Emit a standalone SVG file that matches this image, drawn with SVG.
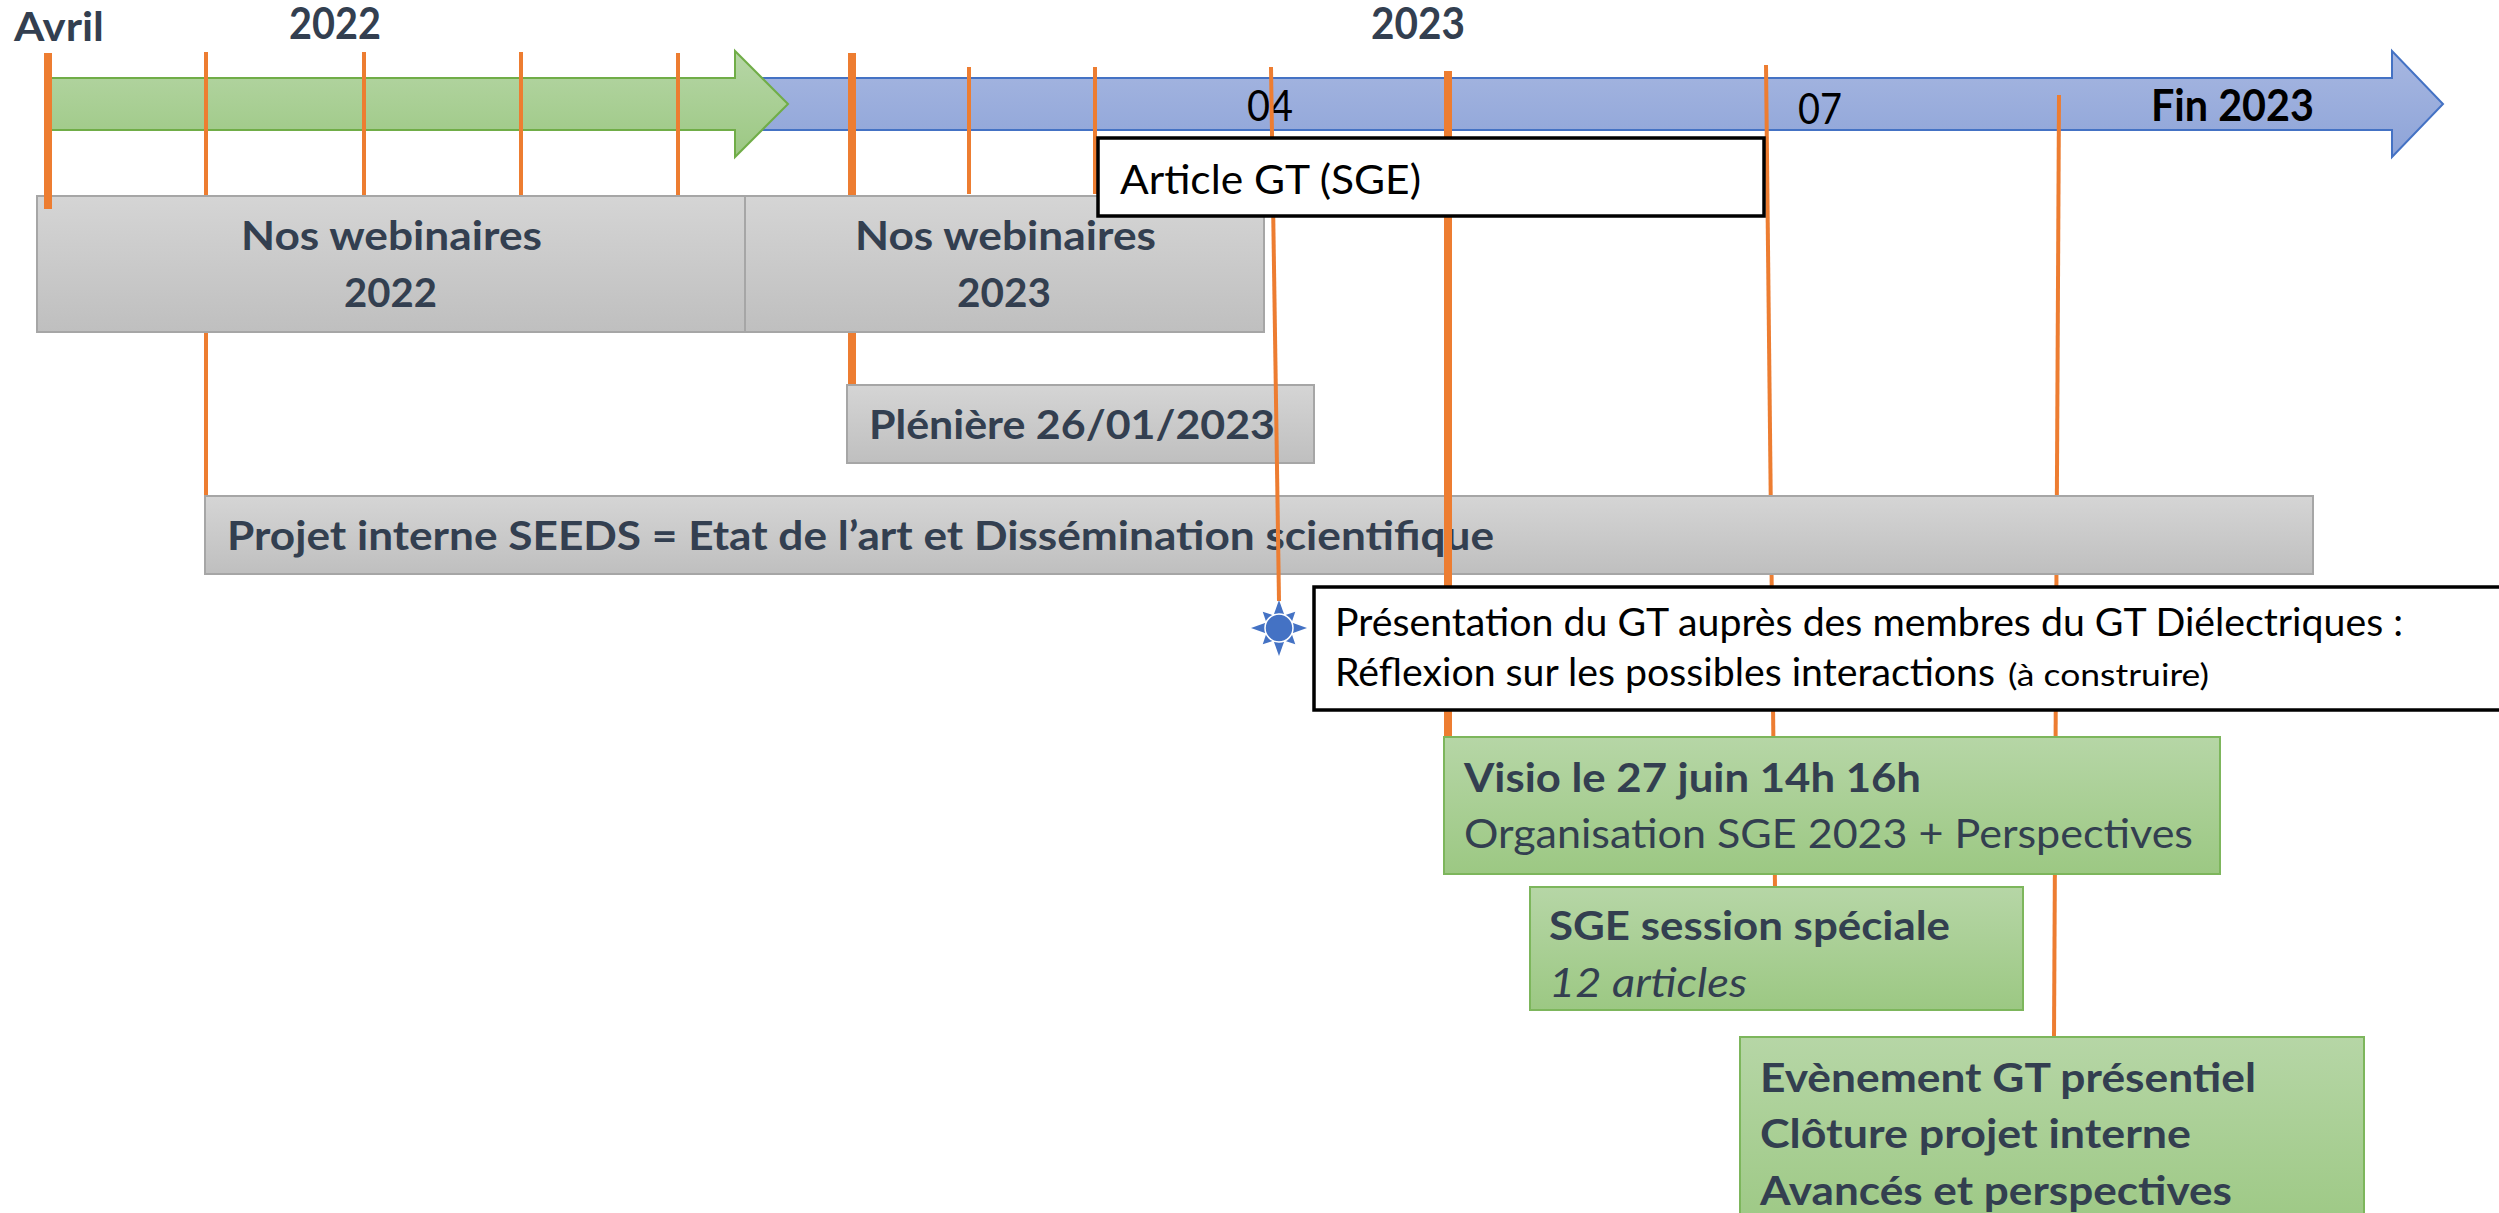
<svg xmlns="http://www.w3.org/2000/svg" width="2499" height="1213" viewBox="0 0 2499 1213">
<defs>
<linearGradient id="gGreen" x1="0" y1="0" x2="0" y2="1"><stop offset="0" stop-color="#B6D6A6"/><stop offset="1" stop-color="#9CC883"/></linearGradient>
<linearGradient id="gBlue" x1="0" y1="0" x2="0" y2="1"><stop offset="0" stop-color="#A7B7E1"/><stop offset="1" stop-color="#8EA4D8"/></linearGradient>
<linearGradient id="gGray" x1="0" y1="0" x2="0" y2="1"><stop offset="0" stop-color="#D5D5D5"/><stop offset="1" stop-color="#BFBFBF"/></linearGradient>
<style>
text{font-family:Lato,"Liberation Sans",sans-serif;font-size:40px}
.b{font-weight:bold}
.dk{fill:#333F50}
.bk{fill:#000}
.big{font-size:43px}
.pres{font-size:38px}
.tick{stroke:#ED7D31;stroke-width:4;fill:none}
.thick{stroke:#ED7D31;stroke-width:8;fill:none}
.gray{fill:url(#gGray);stroke:#A6A6A6;stroke-width:2}
.green{fill:url(#gGreen);stroke:#7DB65C;stroke-width:2}
.white{fill:#fff;stroke:#000;stroke-width:3.5}
</style>
</defs>
<rect width="2499" height="1213" fill="#fff"/>

<g id="timeline">
<path d="M760,78 H2392 V51 L2443,104 L2392,157 V130 H760 Z" fill="url(#gBlue)" stroke="#4472C4" stroke-width="2"/>
<path d="M50,78 H735 V51 L788,104 L735,157 V130 H50 Z" fill="url(#gGreen)" stroke="#70AD47" stroke-width="2"/>
<text x="14" y="41" class="b dk" textLength="90" lengthAdjust="spacingAndGlyphs">Avril</text>
<text x="289" y="39" class="b dk big" textLength="92" lengthAdjust="spacingAndGlyphs">2022</text>
<text x="1371" y="39" class="b dk big" textLength="94" lengthAdjust="spacingAndGlyphs">2023</text>
<text x="1247" y="121" class="bk big" textLength="46" lengthAdjust="spacingAndGlyphs">04</text>
<text x="1798" y="124" class="bk big" textLength="44" lengthAdjust="spacingAndGlyphs">07</text>
<text x="2151" y="121" class="b bk big" textLength="163" lengthAdjust="spacingAndGlyphs">Fin 2023</text>
</g>

<g id="connectors">
<g id="ticks-back">
<line class="tick" x1="206" y1="52" x2="206" y2="496"/>
<line class="tick" x1="364" y1="52" x2="364" y2="196"/>
<line class="tick" x1="521" y1="52" x2="521" y2="196"/>
<line class="tick" x1="678" y1="53" x2="678" y2="196"/>
<line class="thick" x1="852" y1="53" x2="852" y2="385"/>
<line class="tick" x1="969" y1="67" x2="969" y2="194"/>
<line class="tick" x1="1095" y1="67" x2="1095" y2="194"/>
<line class="tick" x1="1766" y1="65" x2="1775" y2="887"/>
<line class="tick" x1="2059" y1="95" x2="2054" y2="1037"/>
</g>
</g>

<g id="webinaires-2022">
<rect class="gray" x="37" y="196" width="708" height="136"/>
<text x="241" y="250" class="b dk" textLength="301" lengthAdjust="spacingAndGlyphs">Nos webinaires</text>
<text x="344" y="307" class="b dk" textLength="93" lengthAdjust="spacingAndGlyphs">2022</text>
</g>
<g id="webinaires-2023">
<rect class="gray" x="745" y="196" width="519" height="136"/>
<text x="855" y="250" class="b dk" textLength="301" lengthAdjust="spacingAndGlyphs">Nos webinaires</text>
<text x="957" y="307" class="b dk" textLength="94" lengthAdjust="spacingAndGlyphs">2023</text>
</g>
<g id="pleniere">
<rect class="gray" x="847" y="385" width="467" height="78"/>
<text x="869" y="439" class="b dk" textLength="406" lengthAdjust="spacingAndGlyphs">Plénière 26/01/2023</text>
</g>
<g id="projet">
<rect class="gray" x="205" y="496" width="2108" height="78"/>
<text x="227" y="550" class="b dk" textLength="1267" lengthAdjust="spacingAndGlyphs">Projet interne SEEDS = Etat de l’art et Dissémination scientifique</text>
</g>

<g id="connectors-front">
<line class="tick" x1="1271" y1="67" x2="1279" y2="601"/>
<line class="thick" x1="1448" y1="71" x2="1448" y2="737"/>
<line class="thick" x1="48" y1="53" x2="48" y2="209"/>
</g>

<g id="article">
<rect class="white" x="1098" y="138" width="666" height="78"/>
<text x="1120" y="194" class="bk" textLength="301" lengthAdjust="spacingAndGlyphs">Article GT (SGE)</text>
</g>

<g id="presentation">
<rect class="white" x="1314" y="587" width="1200" height="123"/>
<text x="1335" y="636" class="bk pres" textLength="1068" lengthAdjust="spacingAndGlyphs">Présentation du GT auprès des membres du GT Diélectriques :</text>
<text x="1335" y="686" class="bk pres" textLength="660" lengthAdjust="spacingAndGlyphs">Réflexion sur les possibles interactions</text>
<text x="2008" y="686" class="bk" style="font-size:31px" textLength="201" lengthAdjust="spacingAndGlyphs">(à construire)</text>
</g>

<g id="sun">
<g fill="#4472C4">
<polygon points="1279,600 1274,614 1284,614"/>
<polygon points="1279,656 1274,642 1284,642"/>
<polygon points="1251,628 1265,623 1265,633"/>
<polygon points="1307,628 1293,623 1293,633"/>
<g transform="rotate(45 1279 628)">
<polygon points="1279,605 1274,615 1284,615"/>
<polygon points="1279,651 1274,641 1284,641"/>
<polygon points="1256,628 1266,623 1266,633"/>
<polygon points="1302,628 1292,623 1292,633"/>
</g>
</g>
<circle cx="1279" cy="628" r="14" fill="#4472C4" stroke="#fff" stroke-width="1.5"/>
</g>

<g id="visio">
<rect class="green" x="1444" y="737" width="776" height="137"/>
<text x="1464" y="792" class="b dk" textLength="457" lengthAdjust="spacingAndGlyphs">Visio le 27 juin 14h 16h</text>
<text x="1464" y="848" class="dk" textLength="729" lengthAdjust="spacingAndGlyphs">Organisation SGE 2023 + Perspectives</text>
</g>
<g id="sge">
<rect class="green" x="1530" y="887" width="493" height="123"/>
<text x="1549" y="940" class="b dk" textLength="401" lengthAdjust="spacingAndGlyphs">SGE session spéciale</text>
<text x="1549" y="997" class="dk" font-style="italic" textLength="198" lengthAdjust="spacingAndGlyphs">12 articles</text>
</g>
<g id="evenement">
<rect class="green" x="1740" y="1037" width="624" height="200"/>
<text x="1760" y="1092" class="b dk" textLength="496" lengthAdjust="spacingAndGlyphs">Evènement GT présentiel</text>
<text x="1760" y="1148" class="b dk" textLength="431" lengthAdjust="spacingAndGlyphs">Clôture projet interne</text>
<text x="1760" y="1205" class="b dk" textLength="472" lengthAdjust="spacingAndGlyphs">Avancés et perspectives</text>
</g>
</svg>
